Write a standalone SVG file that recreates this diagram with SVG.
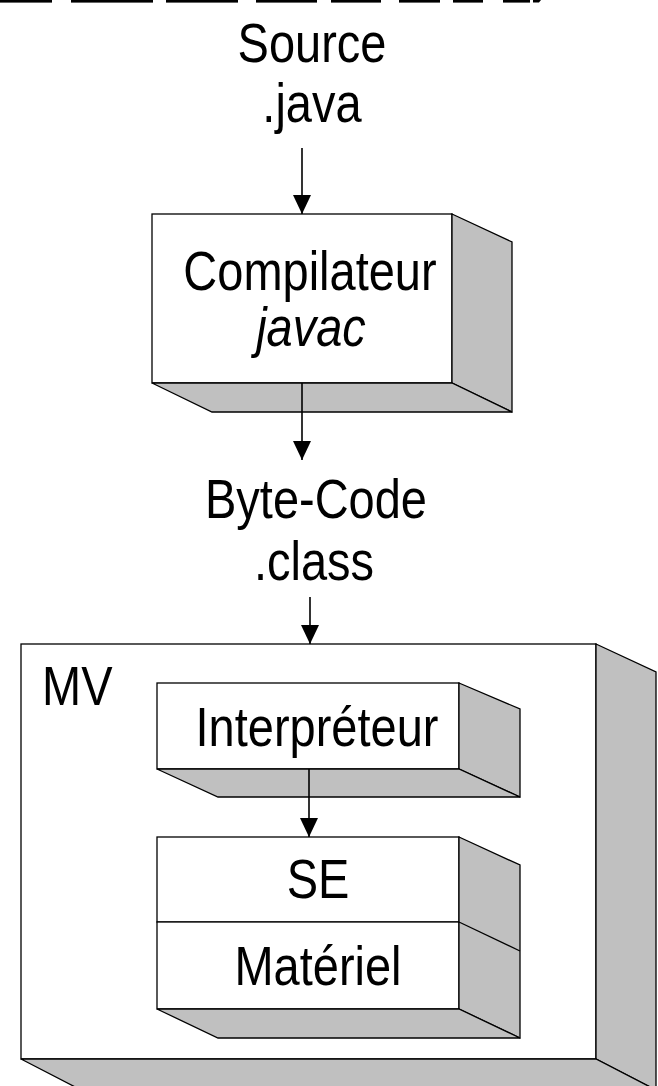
<svg xmlns="http://www.w3.org/2000/svg" width="658" height="1086" viewBox="0 0 658 1086">
  <style>
    .lbl { font-family: "Liberation Sans", Arial, sans-serif; font-size: 47px; fill: #000; text-anchor: middle; }
    .start { text-anchor: start; }
    .face { fill: #ffffff; stroke: #000; stroke-width: 1.3; }
    .side { fill: #c0c0c0; stroke: #000; stroke-width: 1.3; stroke-linejoin: miter; }
    .conn { stroke: #000; stroke-width: 1.6; fill: none; }
  </style>
  <defs>
    <marker id="head" markerUnits="userSpaceOnUse" markerWidth="20" markerHeight="22" refX="19" refY="9" orient="auto">
      <path d="M0,0 L19,9 L0,18 Z" fill="#000"/>
    </marker>
  </defs>

  <rect width="658" height="1086" fill="#ffffff"/>

  <!-- clipped strip along the top edge -->
  <g id="top-strip" fill="#000">
    <rect x="0" y="0" width="52" height="2.6"/>
    <rect x="71" y="0" width="82" height="2.6"/>
    <rect x="166" y="0" width="72" height="2.6"/>
    <rect x="256" y="0" width="61" height="2.6"/>
    <rect x="331" y="0" width="50" height="2.6"/>
    <rect x="399" y="0" width="41" height="2.6"/>
    <rect x="453" y="0" width="30" height="2.6"/>
    <rect x="503" y="0" width="27" height="2.6"/>
    <polygon points="533,0 541,0 539,2.6 533,2.6"/>
  </g>

  <!-- source file label -->
  <g id="source">
    <text class="lbl" transform="translate(312,62) scale(1,1.18)">Source</text>
    <text class="lbl" transform="translate(312,122) scale(1,1.18)">.java</text>
  </g>

  <!-- compiler block -->
  <g id="compilateur">
    <rect class="face" x="152" y="214" width="300" height="169"/>
    <polygon class="side" points="452,214 512,242 512,412 452,383"/>
    <polygon class="side" points="152,383 452,383 512,412 212,412"/>
    <text class="lbl" transform="translate(310,290) scale(1,1.18)">Compilateur</text>
    <text class="lbl" font-style="italic" transform="translate(311,346) scale(1,1.18)">javac</text>
  </g>

  <!-- byte-code label -->
  <g id="bytecode">
    <text class="lbl" transform="translate(316,518) scale(1,1.18)">Byte-Code</text>
    <text class="lbl" transform="translate(314,580) scale(1,1.18)">.class</text>
  </g>

  <!-- virtual machine container -->
  <g id="mv">
    <rect class="face" x="21" y="644" width="575" height="415"/>
    <polygon class="side" points="596,644 656,672 656,1090 596,1059"/>
    <polygon class="side" points="21,1059 596,1059 656,1090 81,1090"/>
    <text class="lbl start" transform="translate(42,705) scale(1,1.18)">MV</text>
  </g>

  <!-- interpreter block -->
  <g id="interpreteur">
    <rect class="face" x="157" y="683" width="302" height="86"/>
    <polygon class="side" points="459,683 520,709 520,797 459,769"/>
    <polygon class="side" points="157,769 459,769 520,797 218,797"/>
    <text class="lbl" transform="translate(317,746) scale(1,1.18)">Interpréteur</text>
  </g>

  <!-- OS / hardware stack -->
  <g id="se-materiel">
    <rect class="face" x="157" y="837" width="302" height="85"/>
    <rect class="face" x="157" y="922" width="302" height="87"/>
    <polygon class="side" points="459,837 520,865 520,1038 459,1009"/>
    <line class="side" x1="459" y1="922" x2="520" y2="951"/>
    <polygon class="side" points="157,1009 459,1009 520,1038 218,1038"/>
    <text class="lbl" transform="translate(318,898) scale(1,1.18)">SE</text>
    <text class="lbl" transform="translate(318,985) scale(1,1.18)">Matériel</text>
  </g>

  <!-- connectors -->
  <g id="connectors">
    <line class="conn" x1="302" y1="148" x2="302" y2="214" marker-end="url(#head)"/>
    <line class="conn" x1="302" y1="383" x2="302" y2="460" marker-end="url(#head)"/>
    <line class="conn" x1="310" y1="597" x2="310" y2="644" marker-end="url(#head)"/>
    <line class="conn" x1="309" y1="769" x2="309" y2="837" marker-end="url(#head)"/>
  </g>
</svg>
